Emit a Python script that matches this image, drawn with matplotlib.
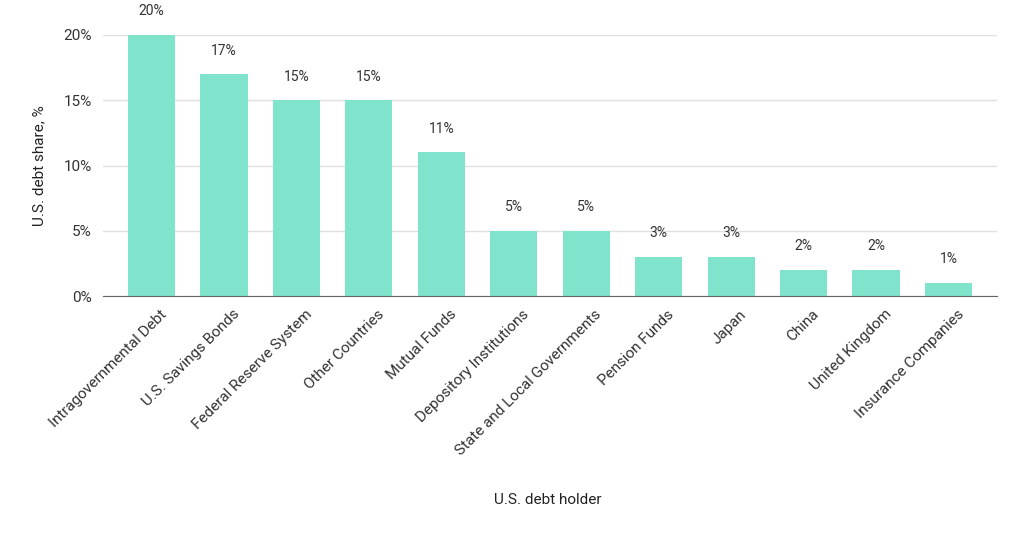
import matplotlib.pyplot as plt
import matplotlib.transforms as mtransforms
from matplotlib.ticker import FuncFormatter

holders = ["Intragovernmental Debt", "U.S. Savings Bonds", "Federal Reserve System",
           "Other Countries", "Mutual Funds", "Depository Institutions",
           "State and Local Governments", "Pension Funds", "Japan", "China",
           "United Kingdom", "Insurance Companies"]
shares = [20, 17, 15, 15, 11, 5, 5, 3, 3, 2, 2, 1]
yticks = [0, 5, 10, 15, 20]

BAR_COLOR = "#80e3cb"
TEXT_COLOR = "#333333"

plt.rcParams['font.family'] = ['Roboto', 'DejaVu Sans']

fig = plt.figure(figsize=(10.24, 5.44), dpi=100)
ax = fig.add_axes([103 / 1024, (544 - 296) / 544, (997 - 103) / 1024, (296 - 35) / 544])

x = list(range(len(holders)))
bars = ax.bar(x, shares, width=0.65, color=BAR_COLOR, zorder=2)

for b, v in zip(bars, shares):
    ax.annotate(f"{v}%", (b.get_x() + b.get_width() / 2, v), xytext=(0, 17),
                textcoords="offset points", ha="center", va="center",
                fontsize=10, color=TEXT_COLOR, annotation_clip=False)

ax.set_xlim(-0.67, len(holders) - 1 + 0.67)
ax.set_ylim(0, 20)
ax.set_yticks(yticks)
ax.yaxis.set_major_formatter(FuncFormatter(lambda v, p: f"{v:.0f}%"))
ax.grid(axis="y", color="#e0e0e0", linewidth=1, zorder=0)
ax.set_axisbelow(True)

for s in ["top", "right", "left"]:
    ax.spines[s].set_visible(False)
ax.spines["bottom"].set_color("#666666")
ax.spines["bottom"].set_zorder(3)

ax.set_xticks(x)
ax.set_xticklabels(holders, rotation=45, ha="right", rotation_mode="anchor",
                   fontsize=11, color=TEXT_COLOR)
ax.tick_params(axis="x", length=0, pad=8)
ax.tick_params(axis="y", length=0, pad=8, labelsize=11, labelcolor=TEXT_COLOR)

# nudge rotated labels a little to the right, as in the reference
shift = mtransforms.ScaledTranslation(6 / 72, 0, fig.dpi_scale_trans)
for lbl in ax.get_xticklabels():
    lbl.set_transform(lbl.get_transform() + shift)

ax.set_ylabel("U.S. debt share, %", fontsize=11, color="#222222", labelpad=12)
fig.text(548 / 1024, 1 - 500 / 544, "U.S. debt holder", ha="center", va="center",
         fontsize=11, color="#222222")

fig.savefig("out.png", dpi=100)
